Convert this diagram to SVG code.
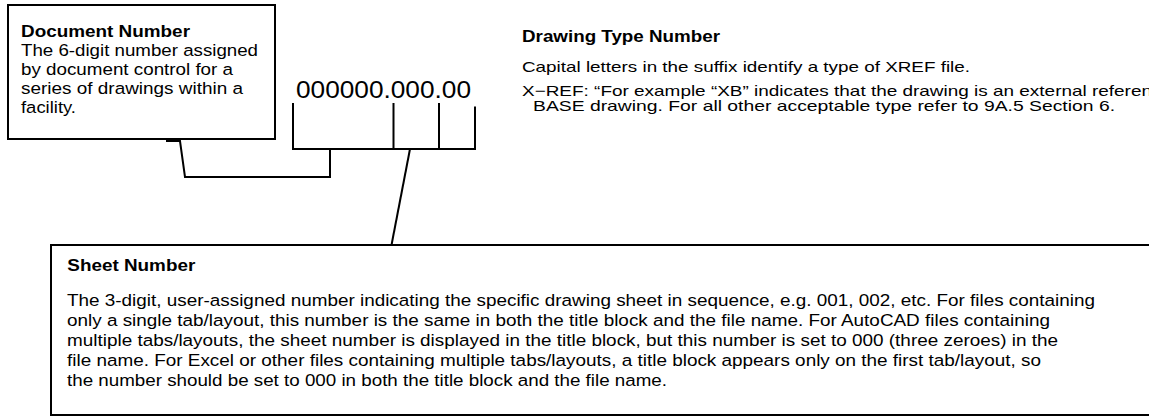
<svg xmlns="http://www.w3.org/2000/svg" width="1149" height="417" viewBox="0 0 1149 417">
<style>
text{font-family:"Liberation Sans",Arial,Helvetica,sans-serif;fill:#000}
.h{font-weight:bold;font-size:16.3px}
.b{font-size:16.3px}
.s{font-size:14.8px}
.hs{font-weight:bold;font-size:16px}
.num{font-size:23.5px}
.box{fill:#fff;stroke:#000;stroke-width:2}
.ln{fill:none;stroke:#000;stroke-width:2}
</style>
<rect width="1149" height="417" fill="#fff"/>
<g id="connectors">
<polyline class="ln" points="293,103 293,149 475,149 475,106.5"/>
<line class="ln" x1="393.5" y1="103" x2="393.5" y2="149"/>
<line class="ln" x1="439" y1="103" x2="439" y2="149"/>
<polyline class="ln" points="330,149 330,177 185,177 180,141 166,141"/>
<line class="ln" x1="410" y1="149" x2="391.5" y2="245"/>
</g>
<g id="document-number">
<rect class="box" x="8" y="5" width="267" height="134"/>
<text class="h" x="21" y="36.7" textLength="169" lengthAdjust="spacingAndGlyphs">Document Number</text>
<text class="b" x="21" y="56" textLength="237" lengthAdjust="spacingAndGlyphs">The 6-digit number assigned</text>
<text class="b" x="21" y="75" textLength="212" lengthAdjust="spacingAndGlyphs">by document control for a</text>
<text class="b" x="21" y="94" textLength="222" lengthAdjust="spacingAndGlyphs">series of drawings within a</text>
<text class="b" x="21" y="113" textLength="55" lengthAdjust="spacingAndGlyphs">facility.</text>
</g>
<g id="number-format">
<text class="num" x="296" y="97.5" textLength="175" lengthAdjust="spacingAndGlyphs">000000.000.00</text>
</g>
<g id="drawing-type-number">
<text class="hs" x="522" y="42" textLength="198" lengthAdjust="spacingAndGlyphs">Drawing Type Number</text>
<text class="s" x="522" y="72" textLength="448" lengthAdjust="spacingAndGlyphs">Capital letters in the suffix identify a type of XREF file.</text>
<text class="s" x="522" y="95.5" textLength="630" lengthAdjust="spacingAndGlyphs">X−REF: “For example “XB” indicates that the drawing is an external referen</text>
<text class="s" x="533" y="110.5" textLength="582" lengthAdjust="spacingAndGlyphs">BASE drawing. For all other acceptable type refer to 9A.5 Section 6.</text>
</g>
<g id="sheet-number">
<rect class="box" x="51" y="245" width="1120" height="170"/>
<text class="h" x="67.3" y="271" textLength="128" lengthAdjust="spacingAndGlyphs">Sheet Number</text>
<text class="b" x="67" y="306" textLength="1028" lengthAdjust="spacingAndGlyphs">The 3-digit, user-assigned number indicating the specific drawing sheet in sequence, e.g. 001, 002, etc. For files containing</text>
<text class="b" x="67" y="326" textLength="983" lengthAdjust="spacingAndGlyphs">only a single tab/layout, this number is the same in both the title block and the file name. For AutoCAD files containing</text>
<text class="b" x="67" y="346" textLength="991" lengthAdjust="spacingAndGlyphs">multiple tabs/layouts, the sheet number is displayed in the title block, but this number is set to 000 (three zeroes) in the</text>
<text class="b" x="67" y="366" textLength="974" lengthAdjust="spacingAndGlyphs">file name. For Excel or other files containing multiple tabs/layouts, a title block appears only on the first tab/layout, so</text>
<text class="b" x="67" y="386" textLength="600" lengthAdjust="spacingAndGlyphs">the number should be set to 000 in both the title block and the file name.</text>
</g>
</svg>
